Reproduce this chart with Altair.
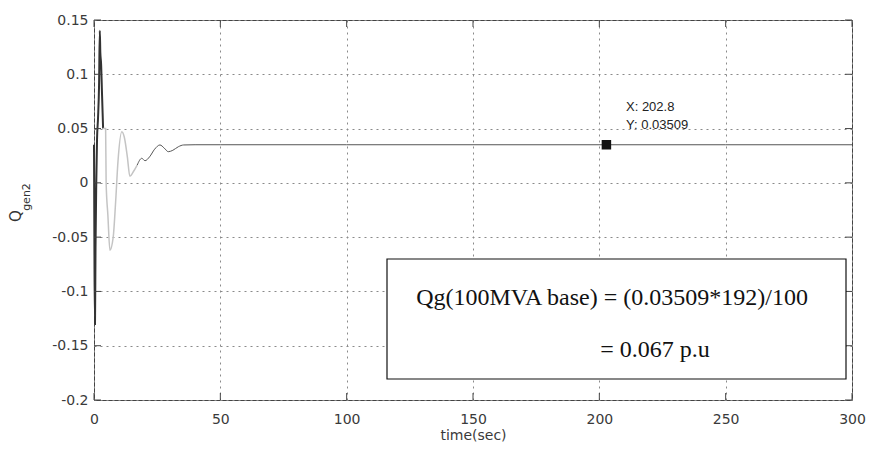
import altair as alt
import pandas as pd

# ---- data ----
t_spike = [0, 0.2, 0.4, 0.6, 0.9, 1.2, 1.6, 2.0, 2.3, 2.5, 2.8, 3.2, 3.6]
v_spike = [0.035, -0.08, -0.13, -0.06, 0.0, 0.04, 0.06, 0.09, 0.14, 0.12, 0.11, 0.08, 0.05]

t_faint = [3.6, 4.6, 4.8, 5.5, 6.3, 7.6, 8.5, 9.5, 11.0, 12.0, 13.2, 14.2, 15.5, 17.1]
v_faint = [0.05, 0.05, 0.0, -0.03, -0.062, -0.05, -0.02, 0.02, 0.047, 0.042, 0.024, 0.006, 0.01, 0.0164]

t_main = [17.1, 18.9, 20.2, 22.0, 24.0, 26.1, 27.8, 29.4, 31.2, 33.4, 35.5, 40, 50, 100, 150, 202.8, 250, 300]
v_main = [0.0164, 0.0226, 0.0204, 0.024, 0.031, 0.0349, 0.032, 0.0287, 0.030, 0.0333, 0.0349, 0.0351, 0.0351,
          0.0351, 0.0351, 0.03509, 0.03509, 0.03509]

tip_x = [202.8]
tip_y = [0.03509]
tip_lines = ["X: 202.8", "Y: 0.03509"]

x_ticks = [0, 50, 100, 150, 200, 250, 300]
y_ticks = [-0.2, -0.15, -0.1, -0.05, 0, 0.05, 0.1, 0.15]

box_lines = ["Qg(100MVA base) = (0.03509*192)/100", "= 0.067 p.u"]

W, H = 758, 380

rows = []
for seg, ts, vs in (("spike", t_spike, v_spike), ("faint", t_faint, v_faint), ("main", t_main, v_main)):
    for i, (t, v) in enumerate(zip(ts, vs)):
        rows.append({"t": t, "v": v, "seg": seg, "i": i})
df = pd.DataFrame(rows)

xs = alt.Scale(domain=[0, 300], nice=False, zero=False)
ys = alt.Scale(domain=[-0.2, 0.15], nice=False, zero=False)

FONT = "DejaVu Sans"
TIPFONT = "Liberation Sans"

xax = alt.Axis(values=x_ticks, title="time(sec)", grid=True, gridDash=[2, 4], gridColor="#8a8a8a",
               gridWidth=1, tickSize=0, domain=False, labelPadding=12, labelFont=FONT, labelFontSize=14,
               labelColor="#3a3a3a", titleFont=FONT, titleFontSize=14, titleFontWeight="normal",
               titleColor="#3a3a3a", titlePadding=2, labelFlush=False)
yax = alt.Axis(values=y_ticks, title=None, grid=True, gridDash=[2, 4], gridColor="#8a8a8a",
               gridWidth=1, tickSize=0, domain=False, labelPadding=6, labelFont=FONT, labelFontSize=14,
               labelColor="#3a3a3a", labelFlush=False,
               labelExpr="replace(format(datum.value, '.2~f'), '\u2212', '-')")


def X():
    return alt.X("t:Q", scale=xs, axis=xax, title="time(sec)")


def Y():
    return alt.Y("v:Q", scale=ys, axis=yax, title=None)


lines = alt.Chart(df).mark_line(interpolate="monotone").encode(
    x=X(), y=Y(),
    order="i:Q",
    color=alt.Color("seg:N", scale=alt.Scale(domain=["spike", "faint", "main"],
                                             range=["#333333", "#c4c4c4", "#555555"]), legend=None),
    strokeWidth=alt.StrokeWidth("seg:N", scale=alt.Scale(domain=["spike", "faint", "main"],
                                                       range=[2.0, 1.0, 1.1]), legend=None),
)

tip_df = pd.DataFrame({"t": tip_x, "v": tip_y})
marker = alt.Chart(tip_df).mark_point(shape="square", filled=True, size=90, color="#111", opacity=1).encode(
    x=X(), y=Y())

one = pd.DataFrame({"a": [0]})


def label(txt, x, y, **kw):
    return alt.Chart(one).mark_text(text=txt, **kw).encode(x=alt.value(x), y=alt.value(y))


tip1 = label(tip_lines[0], 532, 87, align="left", baseline="middle", font=TIPFONT, fontSize=13, color="#222")
tip2 = label(tip_lines[1], 532, 105, align="left", baseline="middle", font=TIPFONT, fontSize=13, color="#222")

xt = pd.DataFrame({"t": x_ticks})
yt = pd.DataFrame({"v": y_ticks})
tick_b = alt.Chart(xt).mark_rule(color="#444").encode(x=X(), y=alt.value(H), y2=alt.value(H - 7))
tick_t = alt.Chart(xt).mark_rule(color="#444").encode(x=X(), y=alt.value(0), y2=alt.value(7))
tick_l = alt.Chart(yt).mark_rule(color="#444").encode(y=Y(), x=alt.value(0), x2=alt.value(7))
tick_r = alt.Chart(yt).mark_rule(color="#444").encode(y=Y(), x=alt.value(W), x2=alt.value(W - 7))

box = alt.Chart(one).mark_rect(fill="white", stroke="#111", strokeWidth=1.2).encode(
    x=alt.value(293), x2=alt.value(752), y=alt.value(239), y2=alt.value(359))

box1 = label(box_lines[0], 518, 278, align="center", baseline="middle", font="Liberation Serif", fontSize=24, color="#111")
box2 = label(box_lines[1], 561, 330, align="center", baseline="middle", font="Liberation Serif", fontSize=24, color="#111")

qlab = label("Q", -78, 196, angle=270, align="center", baseline="middle", font=FONT, fontSize=15, color="#333")
sublab = label("gen2", -67, 177, angle=270, align="center", baseline="middle", font=FONT, fontSize=11, color="#333")

chart = alt.layer(lines, tick_b, tick_t, tick_l, tick_r, marker, tip1, tip2, box, box1, box2, qlab, sublab).properties(
    width=W, height=H,
    autosize=alt.AutoSizeParams(type="none"),
    padding={"left": 94, "top": 20, "right": 31, "bottom": 49},
    background="white",
).configure_view(stroke="#444", strokeWidth=1)

chart.save("out.html", embed_options={"renderer": "svg", "actions": False})
